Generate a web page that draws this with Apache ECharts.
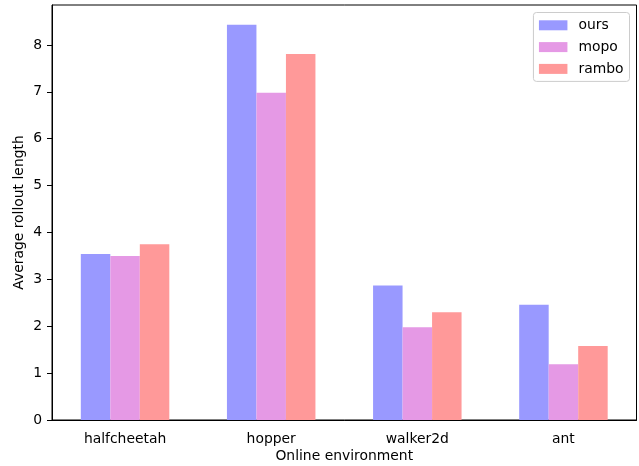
<!DOCTYPE html>
<html>
<head>
<meta charset="utf-8">
<script src="https://cdn.jsdelivr.net/npm/echarts@6/dist/echarts.min.js"></script>
<style>html,body{margin:0;padding:0;background:#fff}#c{width:639px;height:466px}</style>
</head>
<body>
<div id="c"></div>
<script>
const categories = ['halfcheetah', 'hopper', 'walker2d', 'ant'];
const oursValues = [3.54, 8.43, 2.87, 2.46];
const mopoValues = [3.50, 6.98, 1.98, 1.19];
const ramboValues = [3.75, 7.81, 2.30, 1.58];
const yTickValues = [0, 1, 2, 3, 4, 5, 6, 7, 8];

const FONT = 'DejaVu Sans';
const FS = 13.9;
const chart = echarts.init(document.getElementById('c'), null, {renderer: 'canvas'});
chart.setOption({
  animation: false,
  backgroundColor: '#fff',
  textStyle: {fontFamily: FONT},
  grid: {left: 52, right: 2.5, top: 5, bottom: 46, show: true, borderColor: '#000', borderWidth: 1, containLabel: false, outerBoundsMode: 'none'},
  legend: {
    orient: 'vertical', right: 9.5, top: 12.5,
    itemWidth: 28.5, itemHeight: 10, itemGap: 7.8,
    padding: [5.8, 6, 5.5, 5.5],
    backgroundColor: 'rgba(255,255,255,0.8)',
    borderColor: '#cccccc', borderWidth: 1, borderRadius: 3,
    icon: 'rect',
    textStyle: {fontFamily: FONT, fontSize: FS, color: '#000', lineHeight: 14, padding: [0, 0, 0, 6]},
    data: ['ours', 'mopo', 'rambo']
  },
  xAxis: {
    type: 'category', data: categories,
    name: 'Online environment', nameLocation: 'middle', nameGap: 29, nameMoveOverlap: false,
    nameTextStyle: {fontFamily: FONT, fontSize: FS, color: '#000'},
    axisLine: {lineStyle: {color: '#000', width: 1}},
    axisTick: {alignWithLabel: true, length: 5, lineStyle: {color: '#000'}},
    axisLabel: {fontFamily: FONT, fontSize: FS, color: '#000', margin: 12},
    splitLine: {show: false}
  },
  yAxis: {
    type: 'value', min: 0, max: 8.853, interval: 1,
    name: 'Average rollout length', nameLocation: 'middle', nameGap: 26, nameMoveOverlap: false,
    nameTextStyle: {fontFamily: FONT, fontSize: FS, color: '#000'},
    axisLine: {show: true, lineStyle: {color: '#000', width: 1}},
    axisTick: {show: true, length: 5, lineStyle: {color: '#000'}, customValues: yTickValues},
    axisLabel: {fontFamily: FONT, fontSize: FS, color: '#000', margin: 10, customValues: yTickValues},
    splitLine: {show: false}
  },
  series: [
    {name: 'ours', type: 'bar', data: oursValues, barWidth: 29.5, barGap: '0%', itemStyle: {color: '#9999ff'}},
    {name: 'mopo', type: 'bar', data: mopoValues, barWidth: 29.5, barGap: '0%', itemStyle: {color: '#e599e5'}},
    {name: 'rambo', type: 'bar', data: ramboValues, barWidth: 29.5, barGap: '0%', itemStyle: {color: '#ff9999'}}
  ]
});
</script>
</body>
</html>
